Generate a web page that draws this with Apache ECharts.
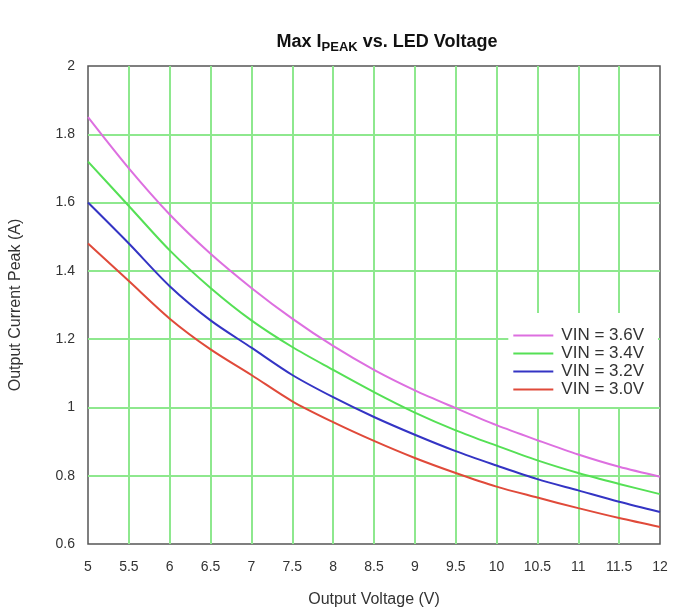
<!DOCTYPE html>
<html>
<head>
<meta charset="utf-8">
<script src="https://cdn.jsdelivr.net/npm/echarts@6/dist/echarts.min.js"></script>
<style>html,body{margin:0;padding:0;background:#fff}#c{width:673px;height:615px}</style>
</head>
<body>
<div id="c"></div>
<script>
const voltages = [5, 5.5, 6, 6.5, 7, 7.5, 8, 8.5, 9, 9.5, 10, 10.5, 11, 11.5, 12];
const vin36 = [1.85, 1.70, 1.565, 1.45, 1.35, 1.26, 1.18, 1.11, 1.05, 0.998, 0.948, 0.904, 0.862, 0.826, 0.797];
const vin34 = [1.72, 1.59, 1.46, 1.35, 1.255, 1.177, 1.11, 1.045, 0.985, 0.933, 0.888, 0.845, 0.808, 0.776, 0.746];
const vin32 = [1.60, 1.48, 1.355, 1.255, 1.175, 1.095, 1.03, 0.972, 0.92, 0.872, 0.83, 0.79, 0.757, 0.724, 0.694];
const vin30 = [1.48, 1.37, 1.26, 1.17, 1.095, 1.018, 0.957, 0.902, 0.852, 0.808, 0.768, 0.736, 0.705, 0.676, 0.65];
const seriesNames = ['VIN = 3.6V', 'VIN = 3.4V', 'VIN = 3.2V', 'VIN = 3.0V'];
const seriesColors = ['#dd6fe0', '#55e055', '#3434c4', '#e04a3a'];
const seriesData = [vin36, vin34, vin32, vin30];

const chart = echarts.init(document.getElementById('c'));
const font = 'Arial, "Liberation Sans", sans-serif';
chart.setOption({
  backgroundColor: '#fff',
  animation: false,
  title: {
    text: '{a|Max I}{s|PEAK}{a| vs. LED Voltage}',
    left: 382, top: 28, textAlign: 'center',
    textStyle: {
      rich: {
        a: { fontFamily: font, fontWeight: 'bold', fontSize: 18, color: '#111', verticalAlign: 'bottom' },
        s: { fontFamily: font, fontWeight: 'bold', fontSize: 13, color: '#111', verticalAlign: 'bottom', padding: [0, 0, -3, 0] }
      }
    }
  },
  grid: { left: 87, right: 13, top: 66, bottom: 71, show: true, borderColor: '#555', borderWidth: 1.5, backgroundColor: '#fff' },
  legend: {
    orient: 'vertical', right: 15, top: 313,
    backgroundColor: '#fff', padding: [14, 14, 9, 5],
    icon: 'rect', itemWidth: 40, itemHeight: 2, itemGap: 1,
    textStyle: { fontFamily: font, fontSize: 17, color: '#333', lineHeight: 15, padding: [0, 0, 0, 3] },
    data: seriesNames
  },
  xAxis: {
    type: 'value', min: 5, max: 12, interval: 0.5,
    name: 'Output Voltage (V)', nameLocation: 'middle', nameGap: 48,
    nameTextStyle: { fontFamily: font, fontSize: 16, color: '#333' },
    axisLine: { show: false }, axisTick: { show: false },
    axisLabel: { fontFamily: font, fontSize: 14, color: '#333', margin: 16 },
    splitLine: { showMinLine: false, showMaxLine: false, lineStyle: { color: '#8ee88e', width: 2 } }
  },
  yAxis: {
    type: 'value', min: 0.6, max: 2, interval: 0.2,
    name: 'Output Current Peak (A)', nameLocation: 'middle', nameGap: 64,
    nameTextStyle: { fontFamily: font, fontSize: 16, color: '#333' },
    axisLine: { show: false }, axisTick: { show: false },
    axisLabel: { fontFamily: font, fontSize: 14, color: '#333', margin: 13,
      formatter: v => String(Math.round(v * 10) / 10) },
    splitLine: { showMinLine: false, showMaxLine: false, lineStyle: { color: '#8ee88e', width: 2 } }
  },
  series: seriesNames.map((n, i) => ({
    name: n, type: 'line', smooth: 0.3, symbol: 'none',
    color: seriesColors[i],
    lineStyle: { width: 2, color: seriesColors[i] },
    data: voltages.map((x, j) => [x, seriesData[i][j]])
  }))
});
</script>
</body>
</html>
